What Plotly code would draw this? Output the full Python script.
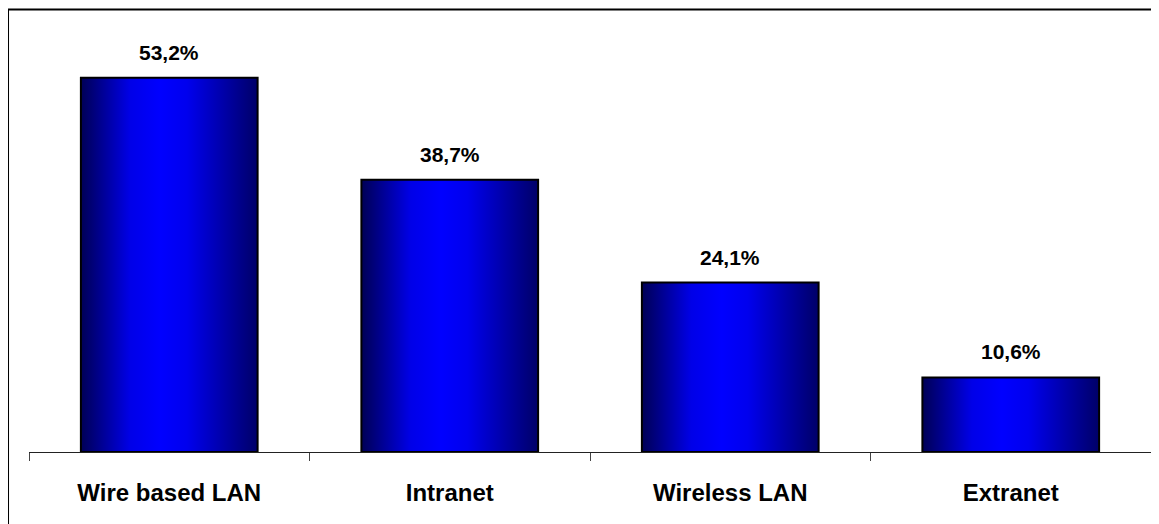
import plotly.graph_objects as go

categories = ["Wire based LAN", "Intranet", "Wireless LAN", "Extranet"]
values = [53.2, 38.7, 24.1, 10.6]
value_labels = ["53,2%", "38,7%", "24,1%", "10,6%"]

BAR_W = 0.63
gradient = [[0.0, "#000055"], [0.28, "#0000e8"], [0.45, "#0000ff"],
            [0.6, "#0000ee"], [1.0, "#000068"]]

fig = go.Figure()
for i, (cat, v) in enumerate(zip(categories, values)):
    x0, x1 = i - BAR_W / 2, i + BAR_W / 2
    fig.add_trace(go.Scatter(
        x=[x0, x0, x1, x1, x0], y=[0, v, v, 0, 0],
        mode="lines", fill="toself",
        fillgradient=dict(type="horizontal", colorscale=gradient),
        line=dict(color="black", width=2),
        hoverinfo="skip", showlegend=False, name=cat,
    ))
    fig.add_annotation(x=i, y=v, text=value_labels[i], showarrow=False,
                       yanchor="bottom", yshift=12,
                       font=dict(family="Liberation Sans", size=21, color="black", weight="bold"))

fig.update_xaxes(
    range=[-0.5, 3.5], tickvals=list(range(len(categories))), ticktext=categories,
    ticks="", showline=True, linecolor="#222222", linewidth=1,
    showgrid=False, zeroline=False, ticklabelstandoff=19,
    tickfont=dict(family="Liberation Sans", size=24, color="black", weight="bold"),
    minor=dict(tick0=-0.5, dtick=1, ticks="outside", ticklen=8, tickcolor="#444444", showgrid=False),
)
fig.update_yaxes(range=[0, 60], visible=False, showgrid=False, zeroline=False)

# outer frame (top and left edges visible)
fig.add_shape(type="line", xref="paper", yref="paper", x0=-0.0187, x1=-0.0187, y0=-0.3, y1=1.0486,
              line=dict(color="black", width=2))
fig.add_shape(type="line", xref="paper", yref="paper", x0=-0.0187, x1=1.1, y0=1.0486, y1=1.0486,
              line=dict(color="black", width=2))

fig.update_layout(
    width=1159, height=524,
    margin=dict(l=21, r=16, t=22, b=80),
    plot_bgcolor="white", paper_bgcolor="white",
    showlegend=False,
)
fig.write_html("out.html")
